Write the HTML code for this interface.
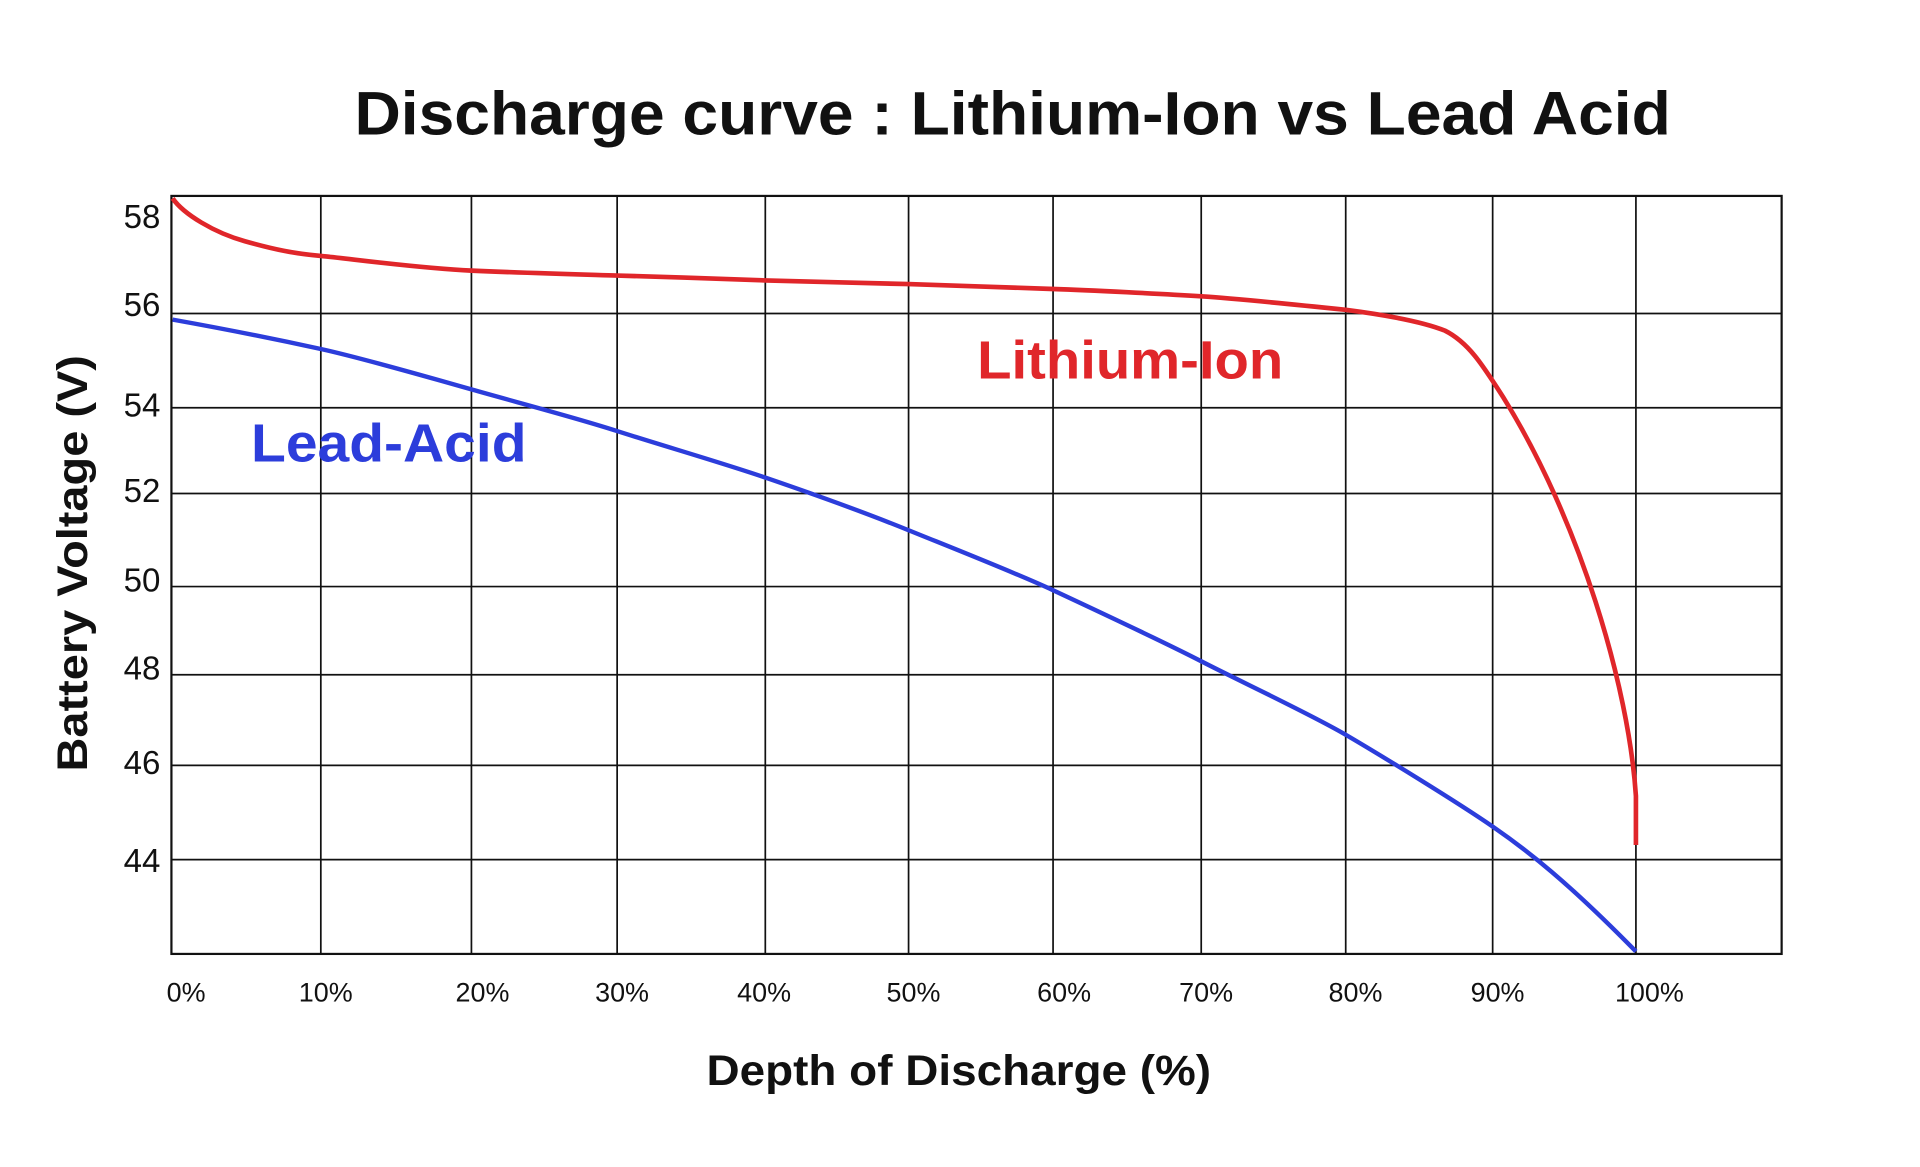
<!DOCTYPE html>
<html><head><meta charset="utf-8"><style>
html,body{margin:0;padding:0;background:#fff;}
svg{display:block;}
text{font-family:"Liberation Sans",sans-serif;}
</style></head><body>
<svg width="1920" height="1167" viewBox="0 0 1568 953" preserveAspectRatio="none" xmlns="http://www.w3.org/2000/svg">
<rect width="1568" height="953" fill="#fff"/>
<text x="827" y="110" font-size="50" font-weight="bold" text-anchor="middle" fill="#111" textLength="1075" lengthAdjust="spacingAndGlyphs">Discharge curve : Lithium-Ion vs Lead Acid</text>
<g stroke="#111" stroke-width="1.4" fill="none">
<rect x="140" y="160" width="1315" height="619" stroke-width="1.8"/>
<line x1="262" y1="160" x2="262" y2="779"/><line x1="385" y1="160" x2="385" y2="779"/>
<line x1="504" y1="160" x2="504" y2="779"/><line x1="625" y1="160" x2="625" y2="779"/>
<line x1="742" y1="160" x2="742" y2="779"/><line x1="860" y1="160" x2="860" y2="779"/>
<line x1="981" y1="160" x2="981" y2="779"/><line x1="1099" y1="160" x2="1099" y2="779"/>
<line x1="1219" y1="160" x2="1219" y2="779"/><line x1="1336" y1="160" x2="1336" y2="779"/>
<line x1="140" y1="256" x2="1455" y2="256"/><line x1="140" y1="333" x2="1455" y2="333"/>
<line x1="140" y1="403" x2="1455" y2="403"/><line x1="140" y1="479" x2="1455" y2="479"/>
<line x1="140" y1="551" x2="1455" y2="551"/><line x1="140" y1="625" x2="1455" y2="625"/>
<line x1="140" y1="702" x2="1455" y2="702"/>
</g>
<g font-size="27" fill="#111" text-anchor="end">
<text x="131" y="186">58</text><text x="131" y="258">56</text><text x="131" y="340">54</text>
<text x="131" y="410">52</text><text x="131" y="483">50</text><text x="131" y="555">48</text>
<text x="131" y="632">46</text><text x="131" y="712">44</text>
</g>
<g font-size="22" fill="#111" text-anchor="middle">
<text x="152" y="818">0%</text><text x="266" y="818">10%</text><text x="394" y="818">20%</text>
<text x="508" y="818">30%</text><text x="624" y="818">40%</text><text x="746" y="818">50%</text>
<text x="869" y="818">60%</text><text x="985" y="818">70%</text><text x="1107" y="818">80%</text>
<text x="1223" y="818">90%</text><text x="1347" y="818">100%</text>
</g>
<text x="783" y="886" font-size="35" font-weight="bold" text-anchor="middle" fill="#111" textLength="412" lengthAdjust="spacingAndGlyphs">Depth of Discharge (%)</text>
<text transform="translate(71,460) rotate(-90)" font-size="35" font-weight="bold" text-anchor="middle" fill="#111" textLength="340" lengthAdjust="spacingAndGlyphs">Battery Voltage (V)</text>
<path d="M141,162 C150,175 175,190 200,197 S240,207 262,209 S340,219 385,221 S470,224 504,225 S600,228 625,229 S710,231 742,232 S830,235 860,236 S950,240 981,242 S1070,250 1099,253 C1130,257 1160,262 1180,270 C1200,280 1212,300 1228,325 C1290,425 1330,560 1336,650 L1336,690" fill="none" stroke="#e0262a" stroke-width="3.8"/>
<path d="M141,261 C180,268 230,278 262,285 S350,308 385,318 S470,341 504,352 S590,378 625,390 S710,420 742,433 S830,468 860,482 S950,524 981,540 S1070,583 1099,600 S1190,655 1219,675 S1280,720 1336,777" fill="none" stroke="#2c3ddb" stroke-width="3.6"/>
<text x="798" y="309" font-size="44" font-weight="bold" fill="#e0262a" textLength="250" lengthAdjust="spacingAndGlyphs">Lithium-Ion</text>
<text x="205" y="377" font-size="44" font-weight="bold" fill="#2c3ddb" textLength="225" lengthAdjust="spacingAndGlyphs">Lead-Acid</text>
</svg>
</body></html>
